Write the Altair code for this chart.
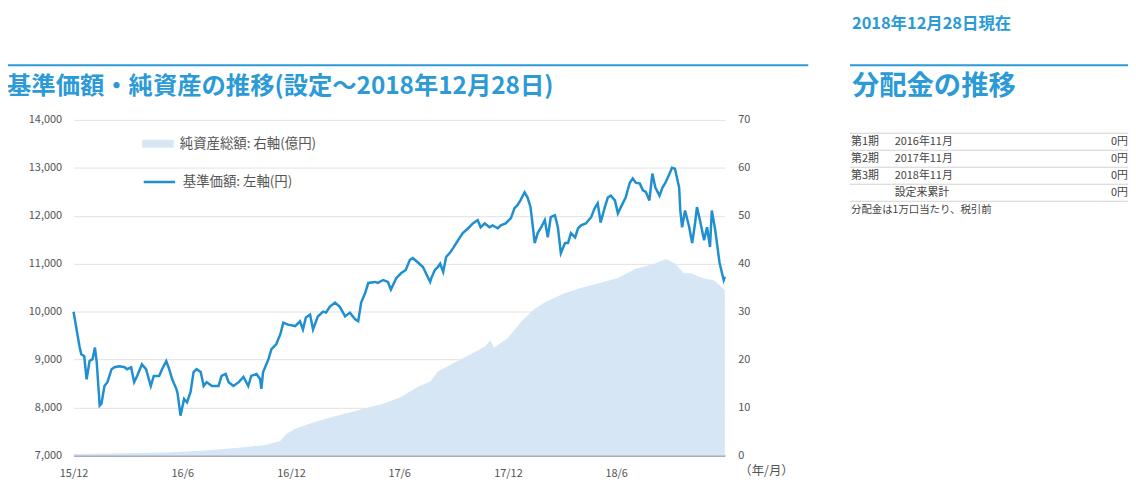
import altair as alt
import pandas as pd

FONT = "Noto Sans CJK JP"
BLUE = "#2b9ad6"
LINE_COLOR = "#1f8fd0"
AREA_COLOR = "#d6e6f4"

left_title = "基準価額・純資産の推移(設定～2018年12月28日)"
as_of = "2018年12月28日現在"
div_title = "分配金の推移"
series_assets = "純資産総額: 右軸(億円)"
series_nav = "基準価額: 左軸(円)"
x_unit = "（年/月）"

nav_dates = [
    "2015-12-28", "2016-01-07", "2016-01-10", "2016-01-15", "2016-01-19", "2016-01-24", "2016-01-29",
    "2016-02-02", "2016-02-05", "2016-02-10", "2016-02-13", "2016-02-18", "2016-02-23", "2016-03-01",
    "2016-03-06", "2016-03-14", "2016-03-23", "2016-03-27", "2016-04-03", "2016-04-08", "2016-04-13",
    "2016-04-21", "2016-04-28", "2016-05-06", "2016-05-11", "2016-05-20", "2016-05-25", "2016-06-01",
    "2016-06-06", "2016-06-11", "2016-06-18", "2016-06-20", "2016-06-25", "2016-07-01", "2016-07-06",
    "2016-07-12", "2016-07-17", "2016-07-22", "2016-07-29", "2016-08-03", "2016-08-08", "2016-08-17",
    "2016-08-28", "2016-09-02", "2016-09-09", "2016-09-14", "2016-09-22", "2016-10-01", "2016-10-09",
    "2016-10-17", "2016-10-22", "2016-10-31", "2016-11-06", "2016-11-08", "2016-11-11", "2016-11-20",
    "2016-11-25", "2016-12-03", "2016-12-10", "2016-12-15", "2016-12-23", "2017-01-04", "2017-01-12",
    "2017-01-17", "2017-01-22", "2017-01-29", "2017-02-03", "2017-02-11", "2017-02-20", "2017-02-25",
    "2017-03-03", "2017-03-12", "2017-03-20", "2017-03-29", "2017-04-06", "2017-04-15", "2017-04-20",
    "2017-04-25", "2017-05-02", "2017-05-07", "2017-05-18", "2017-05-23", "2017-06-01", "2017-06-09",
    "2017-06-14", "2017-06-23", "2017-07-01", "2017-07-09", "2017-07-16", "2017-07-21", "2017-07-30",
    "2017-08-07", "2017-08-12", "2017-08-19", "2017-08-21", "2017-08-27", "2017-09-01", "2017-09-05",
    "2017-09-10", "2017-09-15", "2017-09-22", "2017-09-27", "2017-10-05", "2017-10-13", "2017-10-22",
    "2017-10-30", "2017-11-07", "2017-11-12", "2017-11-19", "2017-11-27", "2017-12-02", "2017-12-11",
    "2017-12-16", "2017-12-24", "2018-01-02", "2018-01-08", "2018-01-13", "2018-01-18", "2018-01-25",
    "2018-01-30", "2018-02-04", "2018-02-08", "2018-02-11", "2018-02-16", "2018-02-21", "2018-02-28",
    "2018-03-05", "2018-03-10", "2018-03-17", "2018-03-22", "2018-03-27", "2018-04-03", "2018-04-08",
    "2018-04-13", "2018-04-20", "2018-04-25", "2018-04-30", "2018-05-08", "2018-05-17", "2018-05-23",
    "2018-05-28", "2018-06-02", "2018-06-09", "2018-06-14", "2018-06-19", "2018-06-26", "2018-07-01",
    "2018-07-06", "2018-07-14", "2018-07-21", "2018-07-26", "2018-07-31", "2018-08-07", "2018-08-12",
    "2018-08-17", "2018-08-23", "2018-08-28", "2018-09-02", "2018-09-09", "2018-09-14", "2018-09-19",
    "2018-09-26", "2018-09-30", "2018-10-05", "2018-10-12", "2018-10-14", "2018-10-17", "2018-10-22",
    "2018-10-29", "2018-11-03", "2018-11-08", "2018-11-11", "2018-11-16", "2018-11-23", "2018-11-28",
    "2018-12-03", "2018-12-06", "2018-12-11", "2018-12-14", "2018-12-19", "2018-12-26", "2018-12-28",
]
nav_values = [
    10000, 9280, 9110, 9070, 8590, 8970, 9010,
    9250, 8950, 8040, 8080, 8450, 8530, 8800,
    8840, 8860, 8840, 8800, 8840, 8530, 8660,
    8900, 8800, 8450, 8660, 8660, 8800, 8970,
    8800, 8590, 8390, 8300, 7830, 8180, 8110,
    8330, 8740, 8800, 8740, 8450, 8530, 8450,
    8450, 8660, 8700, 8530, 8450, 8530, 8640,
    8450, 8660, 8700, 8590, 8390, 8740, 9010,
    9220, 9320, 9530, 9770, 9730, 9700, 9800,
    9630, 9880, 9940, 9630, 9900, 10000, 9980,
    10100, 10190, 10100, 9900, 9980, 9840, 9800,
    10190, 10400, 10600, 10620, 10600, 10660, 10620,
    10460, 10700, 10800, 10870, 11080, 11120, 11020,
    10930, 10800, 10620, 10700, 10870, 10930, 11000,
    10830, 11140, 11240, 11330, 11490, 11640, 11740,
    11840, 11910, 11760, 11840, 11760, 11800, 11740,
    11800, 11840, 11950, 12160, 12220, 12320, 12490,
    12380, 12180, 11760, 11430, 11640, 11740, 11910,
    11550, 11970, 12010, 11760, 11220, 11430, 11430,
    11640, 11550, 11740, 11800, 11840, 11970, 12160,
    12260, 11860, 12180, 12380, 12420, 12320, 12050,
    12180, 12380, 12690, 12780, 12690, 12670, 12530,
    12500, 12320, 12880, 12590, 12420, 12590, 12690,
    12880, 13000, 12980, 12590, 12110, 11760, 12110,
    11760, 11430, 11860, 12180, 11910, 11490, 11760,
    11350, 12110, 11760, 11490, 11020, 10660, 10730,
]

asset_dates = [
    "2015-12-28", "2016-03-01", "2016-06-01", "2016-08-01", "2016-10-01", "2016-11-15",
    "2016-12-10", "2016-12-20", "2017-01-04", "2017-02-01", "2017-03-01", "2017-04-01",
    "2017-05-01", "2017-06-01", "2017-07-01", "2017-08-01", "2017-08-20", "2017-09-01",
    "2017-10-01", "2017-11-01", "2017-11-20", "2017-11-28", "2017-12-05", "2017-12-28",
    "2018-01-20", "2018-02-10", "2018-03-01", "2018-04-01", "2018-05-01", "2018-06-01",
    "2018-07-01", "2018-08-01", "2018-09-01", "2018-09-20", "2018-10-05", "2018-10-20",
    "2018-11-01", "2018-11-20", "2018-12-10", "2018-12-28",
]
asset_values = [
    0.3, 0.4, 0.6, 1.0, 1.6, 2.2,
    3.0, 4.5, 5.6, 6.8, 7.8, 8.8,
    9.8, 10.8, 12.2, 14.5, 15.5, 17.5,
    19.5, 21.5, 22.8, 24.0, 22.5, 24.5,
    28.0, 30.5, 32.0, 33.8, 35.0, 36.0,
    37.0, 39.0, 40.0, 41.0, 40.0, 38.0,
    38.0, 37.0, 36.5, 34.5,
]

nav_ticks = [7000, 8000, 9000, 10000, 11000, 12000, 13000, 14000]
asset_ticks = [0, 10, 20, 30, 40, 50, 60, 70]
x_tick_months = [(2015, 12), (2016, 6), (2016, 12), (2017, 6), (2017, 12), (2018, 6)]

period_labels = ["第1期", "第2期", "第3期", ""]
period_months = ["2016年11月", "2017年11月", "2018年11月", "設定来累計"]
dividends = ["0円", "0円", "0円", "0円"]
note_text = "分配金は1万口当たり、税引前"

nav_df = pd.DataFrame({"date": nav_dates, "value": nav_values, "series": series_nav})
asset_df = pd.DataFrame({"date": asset_dates, "value": asset_values, "series": series_assets})
table_df = pd.DataFrame({"row": list(range(len(period_labels))), "period": period_labels,
                         "month": period_months, "amount": dividends})
note_df = pd.DataFrame({"row": [len(period_labels)], "t": [note_text]})
border_df = pd.DataFrame({"edge": [r - 0.5 for r in range(len(period_labels) + 1)]})
title_df = pd.DataFrame({"t": [left_title]})
asof_df = pd.DataFrame({"t": [as_of]})
divtitle_df = pd.DataFrame({"t": [div_title]})

x_scale = alt.Scale(domain=[alt.DateTime(year=2015, month=12, date=28, utc=True),
                            alt.DateTime(year=2018, month=12, date=28, utc=True)])
x_values = [alt.DateTime(year=y, month=m, date=28, utc=True) for (y, m) in x_tick_months]
row_scale = alt.Scale(domain=[0, 4], range=[22, 90.5])

x_enc = alt.X("date:T", scale=x_scale, axis=alt.Axis(
    values=x_values, labelExpr="utcFormat(datum.value, '%y/%-m')", labelFlush=False,
    grid=False, ticks=False, domain=True, domainColor="#8d99a6", domainWidth=1.5,
    labelPadding=12, labelFontSize=11, labelColor="#555", labelFont=FONT,
    title=x_unit, titleFont=FONT, titleFontSize=12.5, titleFontWeight="normal", titleColor="#555",
    titleX=670, titleY=15, titleAlign="left", titleBaseline="middle", titleAngle=0))

area = alt.Chart(asset_df).mark_area(opacity=1).encode(
    x=x_enc,
    y=alt.Y("value:Q", scale=alt.Scale(domain=[0, 70]), axis=alt.Axis(
        orient="right", values=asset_ticks, grid=False, ticks=False, domain=False,
        labelPadding=13, labelFontSize=11, labelColor="#555", labelFont=FONT, title=None)),
    fill=alt.Fill("series:N", scale=alt.Scale(range=[AREA_COLOR]), legend=alt.Legend(
        orient="none", legendX=69, legendY=8, title=None, padding=0,
        symbolType="M-1,-0.25H1V0.25H-1Z", symbolSize=1000, symbolStrokeWidth=0, symbolOpacity=1,
        labelFont=FONT, labelFontSize=13.5, labelColor="#555", labelOffset=6)),
)

line = alt.Chart(nav_df).mark_line(strokeWidth=2.5).encode(
    x=alt.X("date:T", scale=x_scale),
    y=alt.Y("value:Q", scale=alt.Scale(domain=[7000, 14000]), axis=alt.Axis(
        orient="left", values=nav_ticks, format=",d", grid=True, gridColor="#e2e2e2", gridWidth=1,
        ticks=False, domain=False, labelPadding=12, labelFontSize=11, labelColor="#555",
        labelFont=FONT, title=None)),
    stroke=alt.Stroke("series:N", scale=alt.Scale(range=[LINE_COLOR]), legend=alt.Legend(
        orient="none", legendX=69, legendY=45, title=None, padding=0,
        symbolType="stroke", symbolSize=1000, symbolStrokeWidth=2.5,
        labelFont=FONT, labelFontSize=13.5, labelColor="#555", labelOffset=6)),
)

row_style = dict(baseline="middle", font=FONT, fontSize=11, color="#444")
note_style = dict(baseline="middle", font=FONT, fontSize=10.5, color="#444")

borders = alt.Chart(border_df).mark_rule(color="#d2d2d2", strokeWidth=1).encode(
    y=alt.Y("edge:Q", scale=row_scale, axis=None), x=alt.value(782), x2=alt.value(1062))
t_period = alt.Chart(table_df).mark_text(align="left", **row_style).encode(
    y=alt.Y("row:Q", scale=row_scale, axis=None), x=alt.value(783), text="period:N")
t_month = alt.Chart(table_df).mark_text(align="left", **row_style).encode(
    y=alt.Y("row:Q", scale=row_scale, axis=None), x=alt.value(827), text="month:N")
t_amount = alt.Chart(table_df).mark_text(align="right", **row_style).encode(
    y=alt.Y("row:Q", scale=row_scale, axis=None), x=alt.value(1062), text="amount:N")
t_note = alt.Chart(note_df).mark_text(align="left", **note_style).encode(
    y=alt.Y("row:Q", scale=row_scale, axis=None), x=alt.value(783), text="t:N")

h_title = alt.Chart(title_df).mark_text(align="left", baseline="middle", font=FONT, fontSize=24.5,
                                        fontWeight="bold", color=BLUE).encode(
    x=alt.value(-67), y=alt.value(-33), text="t:N")
h_asof = alt.Chart(asof_df).mark_text(align="left", baseline="middle", font=FONT, fontSize=16.5,
                                      fontWeight="bold", color=BLUE).encode(
    x=alt.value(784), y=alt.value(-97), text="t:N")
h_div = alt.Chart(divtitle_df).mark_text(align="left", baseline="middle", font=FONT, fontSize=27.5,
                                         fontWeight="bold", color=BLUE).encode(
    x=alt.value(784), y=alt.value(-33), text="t:N")
rule_left = alt.Chart().mark_rule(color=BLUE, strokeWidth=2).encode(
    x=alt.value(-74), x2=alt.value(740), y=alt.value(-55))
rule_right = alt.Chart().mark_rule(color=BLUE, strokeWidth=2).encode(
    x=alt.value(782), x2=alt.value(1062), y=alt.value(-55))

chart = alt.layer(
    area, line, borders, t_period, t_month, t_amount, t_note,
    h_title, h_asof, h_div, rule_left, rule_right
).resolve_scale(
    y="independent"
).properties(
    width=656, height=338,
    autosize=alt.AutoSizeParams(type="none"),
    padding={"left": 66, "top": 111, "right": 406, "bottom": 25},
    background="white",
).configure_view(stroke=None)

chart.save("out.html", embed_options={"renderer": "svg", "actions": False})
